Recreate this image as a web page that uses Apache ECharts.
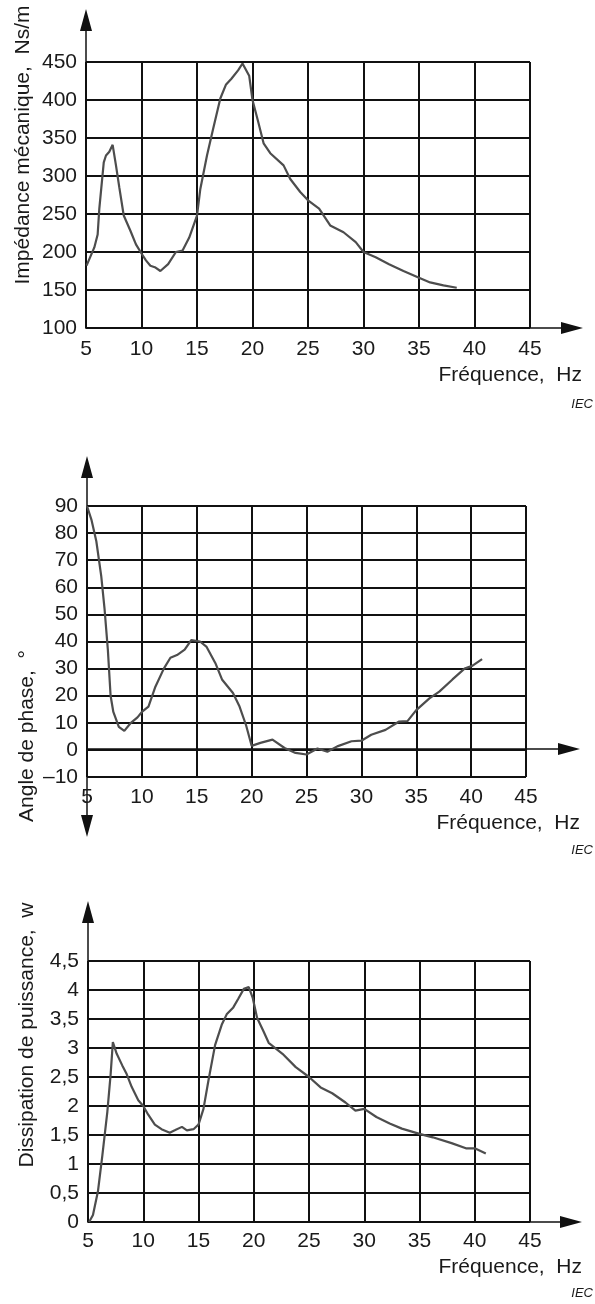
<!DOCTYPE html>
<html>
<head>
	<meta http-equiv="Content-Type" content="text/html; charset=UTF-8">
	<title>Impédance, phase, dissipation</title>
	<script type="text/javascript" src="https://cdn.jsdelivr.net/npm/echarts@6/dist/echarts.min.js"></script>
	<style>
		html, body { margin:0; padding:0; background:#fff; }
		#show { width:595px; height:1304px; }
	</style>
</head>
<body>
<div id="show"></div>

<script type="text/javascript">
	// valeurs
	var freqTicks = [5, 10, 15, 20, 25, 30, 35, 40, 45];

	var impFreq = [5.05,5.75,6.05,6.2,6.6,6.8,7.1,7.4,7.7,8.0,8.4,9.0,9.5,10,10.4,10.8,11.2,11.7,12.4,13.1,13.7,14.3,15,15.3,15.9,16.45,17.1,17.6,18.1,18.7,19.1,19.7,20,20.5,21,21.6,22.8,23.4,24.3,25,26,27,28.2,29.3,30,31.1,32.3,33.6,35,36,37.2,38.4];
	var impVal  = [182,206,223,257,318,327,332,341,314,285,248,228,210,198,189,182,180,175,184,200,202,219,248,283,327,362,402,420,428,439,448,432,400,372,343,330,314,296,279,268,257,235,226,213,200,193,184,175,166,160,156,153];

	var phaseFreq = [5,5.4,5.85,6.3,6.6,6.9,7.15,7.4,7.9,8.4,9.0,9.6,10,10.6,11.2,12.0,12.6,13.2,13.9,14.5,15.3,15.9,16.7,17.3,18.3,18.9,19.5,20,20.8,21.9,23,24,25,26,26.9,27.8,29.1,30,30.9,32.2,33.4,34.2,35,36.2,37.1,38.3,39.4,40.1,41];
	var phaseVal  = [90,85,77,64,52,37,20,14,8.5,7,10,12,14,16,23,30,34,35,37,40.5,40,38,32,26,21,16,9,1.5,2.6,3.8,0.7,-1.1,-1.7,0.5,-0.7,1.3,3.2,3.4,5.6,7.4,10.4,10.6,14.7,19,21.5,26,30,31,33.5];

	var powFreq = [5.1,5.45,5.9,6.3,6.75,7.05,7.25,7.6,8.1,8.5,8.95,9.55,10,10.45,11.05,11.65,12.4,12.85,13.5,13.95,14.55,15,15.45,15.9,16.5,17.1,17.55,18.15,18.6,19.1,19.55,19.9,20.3,20.9,21.35,22.6,23.8,25,26.05,27.1,28.3,29.2,30,31.1,32.3,33.4,35,36.2,37.9,39.2,40,41];
	var powVal  = [0,0.12,0.53,1.15,1.9,2.55,3.1,2.9,2.7,2.55,2.33,2.1,2.0,1.85,1.68,1.6,1.54,1.58,1.64,1.58,1.6,1.68,1.95,2.44,3.05,3.4,3.58,3.7,3.85,4.02,4.05,3.87,3.52,3.28,3.09,2.9,2.67,2.5,2.32,2.22,2.06,1.92,1.95,1.81,1.7,1.61,1.52,1.46,1.36,1.27,1.27,1.18];

	function pairs(xs, ys){
		return xs.map(function(x, i){ return [x, ys[i]]; });
	}

	var FONT = 'Liberation Sans';
	var LABEL = { color:'#1a1a1a', fontSize:21, fontFamily:FONT };

	var panels = [
		// grille, grille des flèches, axe y
		{ g:{left:86, top:62, width:444, height:266}, a:{left:86, top:20, width:486, height:308},
		  ymin:100, ymax:450, yint:50, fmt:function(v){ return v; },
		  xMargin:11, data:pairs(impFreq, impVal), aymin:0, aymax:1, arrows:['none','triangle'] },
		{ g:{left:87, top:506, width:439, height:271}, a:{left:87, top:467, width:482, height:359},
		  ymin:-10, ymax:90, yint:10, fmt:function(v){ return v < 0 ? '\u2013' + Math.abs(v) : v; },
		  xMargin:10, data:pairs(phaseFreq, phaseVal), aymin:-77, aymax:282, arrows:['triangle','triangle'] },
		{ g:{left:88, top:961, width:442, height:261}, a:{left:88, top:912, width:483, height:310},
		  ymin:0, ymax:4.5, yint:0.5, fmt:function(v){ return String(v).replace('.', ','); },
		  xMargin:9, data:pairs(powFreq, powVal), aymin:0, aymax:1, arrows:['none','triangle'] }
	];

	var grid = [], xAxis = [], yAxis = [], series = [];
	panels.forEach(function(p, i){
		grid.push(p.g);
		grid.push(p.a);
		var gi = i * 2;

		xAxis.push({
			type:'value', gridIndex:gi, min:5, max:45, interval:5,
			axisLine:{show:false}, axisTick:{show:false},
			axisLabel:Object.assign({margin:p.xMargin}, LABEL),
			splitLine:{show:true, lineStyle:{color:'#111', width:2}}
		});
		yAxis.push({
			type:'value', gridIndex:gi, min:p.ymin, max:p.ymax, interval:p.yint,
			axisLine:{show:false}, axisTick:{show:false},
			axisLabel:Object.assign({margin:9, formatter:p.fmt}, LABEL),
			splitLine:{show:true, lineStyle:{color:'#111', width:2}}
		});

		// axes avec flèches
		xAxis.push({
			type:'value', gridIndex:gi + 1, min:0, max:1,
			axisLine:{show:true, onZero:true, symbol:['none','triangle'], symbolSize:[12,22],
				lineStyle:{color:'#111', width:1.5}},
			axisTick:{show:false}, axisLabel:{show:false}, splitLine:{show:false}
		});
		yAxis.push({
			type:'value', gridIndex:gi + 1, min:p.aymin, max:p.aymax,
			axisLine:{show:true, onZero:false, symbol:p.arrows, symbolSize:[12,22],
				lineStyle:{color:'#111', width:1.5}},
			axisTick:{show:false}, axisLabel:{show:false}, splitLine:{show:false}
		});

		series.push({
			type:'line', xAxisIndex:gi, yAxisIndex:gi,
			data:p.data, showSymbol:false, smooth:false,
			lineStyle:{color:'#4d4d4d', width:2.2}, z:5
		});
	});

	function txt(x, y, s, opt){
		return {
			type:'text', x:x, y:y,
			style:Object.assign({text:s, fill:'#1a1a1a', font:'21px "' + FONT + '"',
				textAlign:'right', textVerticalAlign:'middle'}, opt || {})
		};
	}
	function vtxt(x, y, s){
		return {
			type:'text', x:x, y:y, rotation:Math.PI / 2,
			style:{text:s, fill:'#1a1a1a', font:'21px "' + FONT + '"',
				textAlign:'center', textVerticalAlign:'middle'}
		};
	}

	var graphic = [
		vtxt(23, 145, 'Impédance mécanique,  Ns/m'),
		txt(582, 375, 'Fréquence,  Hz'),
		txt(593, 404, 'IEC', {font:'italic 13px "' + FONT + '"'}),

		vtxt(27, 736, 'Angle de phase,  °'),
		txt(580, 823, 'Fréquence,  Hz'),
		txt(593, 850, 'IEC', {font:'italic 13px "' + FONT + '"'}),

		vtxt(27, 1035, 'Dissipation de puissance,  w'),
		txt(582, 1267, 'Fréquence,  Hz'),
		txt(593, 1293, 'IEC', {font:'italic 13px "' + FONT + '"'})
	];

	var myChart = echarts.init(document.getElementById('show'), null, {renderer:'canvas'});
	myChart.setOption({
		animation:false,
		backgroundColor:'#fff',
		grid:grid,
		xAxis:xAxis,
		yAxis:yAxis,
		series:series,
		graphic:graphic
	});
</script>
</body>
</html>
